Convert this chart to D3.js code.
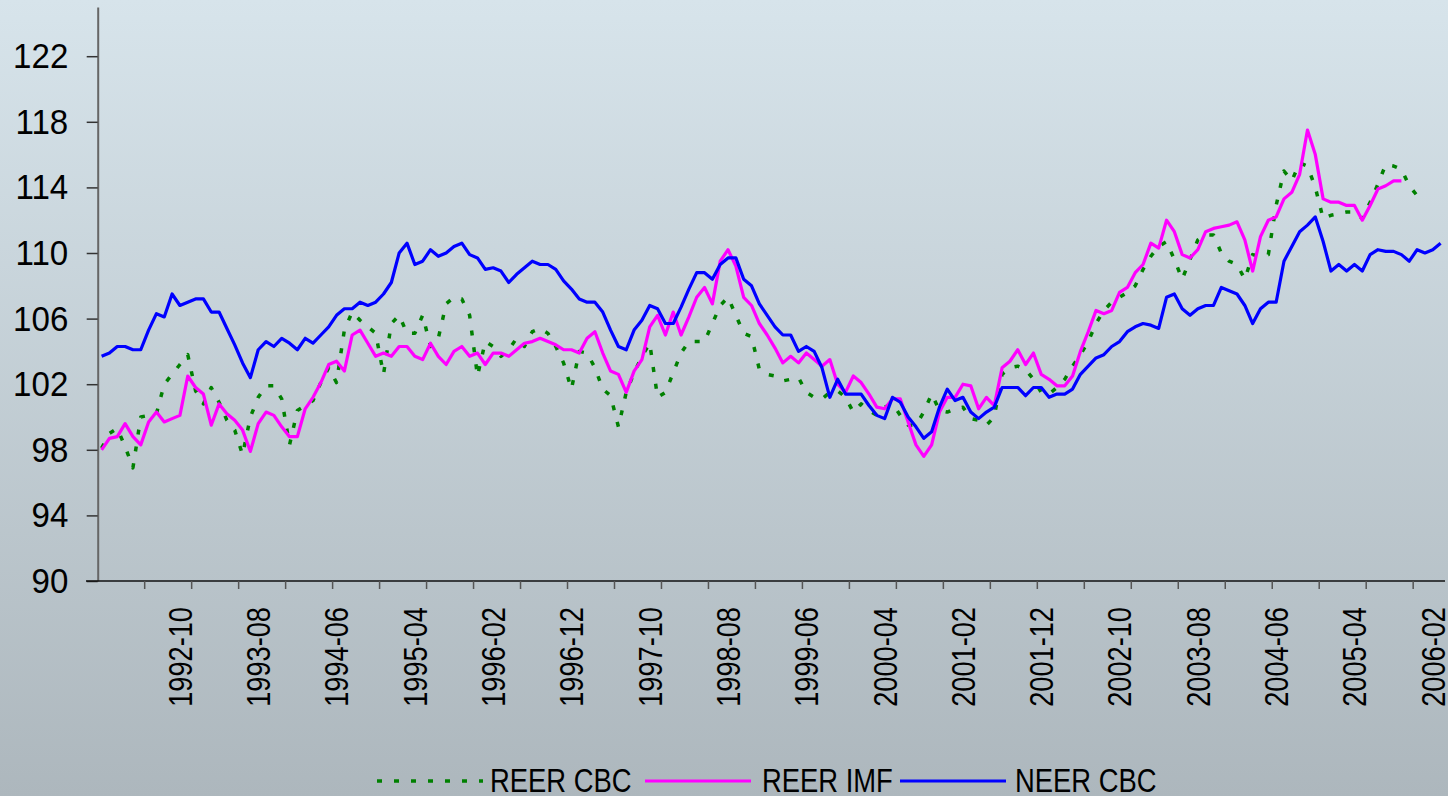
<!DOCTYPE html>
<html>
<head>
<meta charset="utf-8">
<script src="https://cdn.jsdelivr.net/npm/d3@7"></script>
<style>
  html, body { margin: 0; padding: 0; overflow: hidden; }
  svg { display: block; font-family: "Liberation Sans", Arial, sans-serif; }
</style>
</head>
<body>
<svg id="chart" width="1448" height="796"></svg>
<script>
// monthly categories, 1991-12 .. 2006-03
const months = d3.timeMonth.range(new Date(1991, 11, 1), new Date(2006, 3, 1)).map(d3.timeFormat('%Y-%m'));

const tickLabels = ['1992-10', '1993-08', '1994-06', '1995-04', '1996-02', '1996-12', '1997-10', '1998-08',
  '1999-06', '2000-04', '2001-02', '2001-12', '2002-10', '2003-08', '2004-06', '2005-04', '2006-02'];

const yTicks = [90, 94, 98, 102, 106, 110, 114, 118, 122];

// REER CBC (1991-12 .. 2005-12)
const reerCbc = [
  98.1, 99.0, 99.3, 98.2, 96.9, 100.0, 100.1, 100.2, 102.0, 102.6, 103.2, 103.8,
  101.6, 100.8, 101.8, 100.9, 99.8, 99.2, 97.7, 100.0, 101.2, 101.9, 101.9, 101.1,
  98.3, 100.4, 100.7, 101.0, 102.1, 103.0, 102.1, 105.3, 106.4, 105.9, 105.5, 105.1,
  102.6, 105.7, 106.2, 105.1, 105.1, 106.2, 104.3, 104.8, 106.9, 107.3, 107.2, 106.2,
  102.5, 104.6, 104.3, 103.7, 104.1, 104.8, 104.3, 105.2, 105.4, 105.1, 104.3, 103.3,
  101.7, 104.0, 103.9, 103.0, 101.7, 101.3, 99.4, 101.5, 102.7, 103.7, 104.5, 101.2,
  101.5, 102.7, 103.9, 104.6, 104.6, 104.6, 105.7, 106.8, 107.3, 106.2, 105.1, 104.9,
  102.9, 102.6, 102.5, 102.2, 102.3, 102.4, 101.5, 101.2, 101.1, 101.5, 101.6, 101.2,
  100.3, 100.8, 100.4, 100.1, 100.6, 100.8, 100.1, 99.5, 99.5, 100.3, 101.4, 100.4,
  100.3, 100.5, 100.6, 99.9, 99.8, 99.5, 100.0, 102.6, 103.0, 103.1, 102.9, 102.3,
  101.5, 101.4, 101.8, 102.3, 103.1, 103.8, 104.6, 105.7, 106.5, 107.0, 107.3, 107.6,
  108.0, 109.0, 109.8, 110.4, 110.7, 109.6, 108.4, 109.6, 110.8, 111.1, 111.1, 110.0,
  109.5, 109.3, 108.4, 109.9, 109.8, 109.9, 112.9, 115.0, 114.4, 115.5, 115.3, 114.0,
  112.1, 112.3, 112.4, 112.5, 112.5, 112.1, 113.1, 114.2, 115.4, 115.3, 115.1, 114.1,
  113.5
];

// REER IMF (1991-12 .. 2005-10)
const reerImf = [
  98.0, 98.7, 98.8, 99.6, 98.8, 98.3, 99.7, 100.3, 99.7, 99.9, 100.1, 102.5,
  101.8, 101.4, 99.5, 100.8, 100.2, 99.8, 99.2, 97.9, 99.6, 100.3, 100.1, 99.4,
  98.8, 98.8, 100.5, 101.2, 102.1, 103.2, 103.4, 102.8, 105.0, 105.3, 104.5, 103.7,
  103.9, 103.7, 104.3, 104.3, 103.7, 103.5, 104.5, 103.7, 103.2, 104.0, 104.3, 103.7,
  103.9, 103.2, 103.9, 103.9, 103.7, 104.1, 104.5, 104.6, 104.8, 104.6, 104.4, 104.1,
  104.1, 103.9, 104.8, 105.2, 103.9, 102.8, 102.6, 101.5, 102.8, 103.5, 105.5, 106.2,
  105.0, 106.4, 105.0, 106.1, 107.3, 107.9, 106.9, 109.5, 110.2, 109.2, 107.3, 106.8,
  105.7, 105.0, 104.2, 103.3, 103.7, 103.3, 103.9, 103.5, 103.1, 103.5, 102.0, 101.5,
  102.5, 102.1, 101.4, 100.6, 100.5, 101.1, 101.1, 99.7, 98.3, 97.6, 98.3, 100.3,
  101.2, 101.2, 102.0, 101.9, 100.5, 101.2, 100.7, 103.0, 103.4, 104.1, 103.2, 103.9,
  102.6, 102.3, 101.9, 101.9, 102.5, 104.0, 105.2, 106.5, 106.3, 106.5, 107.6, 107.9,
  108.8, 109.3, 110.6, 110.3, 112.0, 111.3, 109.9, 109.7, 110.2, 111.3, 111.5, 111.6,
  111.7, 111.9, 110.8, 108.9, 111.0, 112.0, 112.2, 113.3, 113.7, 114.8, 117.5, 116.0,
  113.3, 113.1, 113.1, 112.9, 112.9, 112.0, 112.9, 113.9, 114.1, 114.4, 114.4
];

// NEER CBC (1991-12 .. 2006-03)
const neerCbc = [
  103.7, 103.9, 104.3, 104.3, 104.1, 104.1, 105.3, 106.3, 106.1, 107.5, 106.8, 107.0,
  107.2, 107.2, 106.4, 106.4, 105.4, 104.4, 103.3, 102.4, 104.1, 104.6, 104.3, 104.8,
  104.5, 104.1, 104.8, 104.5, 105.0, 105.5, 106.2, 106.6, 106.6, 107.0, 106.8, 107.0,
  107.5, 108.2, 110.0, 110.6, 109.3, 109.5, 110.2, 109.8, 110.0, 110.4, 110.6, 109.9,
  109.7, 109.0, 109.1, 108.9, 108.2, 108.7, 109.1, 109.5, 109.3, 109.3, 109.0, 108.3,
  107.8, 107.2, 107.0, 107.0, 106.4, 105.3, 104.3, 104.1, 105.3, 105.9, 106.8, 106.6,
  105.7, 105.7, 106.7, 107.8, 108.8, 108.8, 108.4, 109.3, 109.7, 109.7, 108.4, 108.0,
  106.9, 106.2, 105.5, 105.0, 105.0, 104.0, 104.3, 104.0, 103.0, 101.2, 102.3, 101.4,
  101.4, 101.4, 100.7, 100.1, 99.9, 101.2, 100.9, 100.0, 99.4, 98.7, 99.1, 100.6,
  101.7, 101.0, 101.2, 100.3, 99.9, 100.3, 100.6, 101.8, 101.8, 101.8, 101.3, 101.8,
  101.8, 101.2, 101.4, 101.4, 101.7, 102.6, 103.1, 103.6, 103.8, 104.3, 104.6, 105.2,
  105.5, 105.7, 105.6, 105.4, 107.3, 107.5, 106.6, 106.2, 106.6, 106.8, 106.8, 107.9,
  107.7, 107.5, 106.8, 105.7, 106.6, 107.0, 107.0, 109.5, 110.4, 111.3, 111.7, 112.2,
  110.7, 108.9, 109.3, 108.9, 109.3, 108.9, 109.9, 110.2, 110.1, 110.1, 109.9, 109.5,
  110.2, 110.0, 110.2, 110.6
];

const series = [
  { name: 'REER CBC', values: reerCbc, color: '#008000', dash: '5,12', width: 3.5 },
  { name: 'REER IMF', values: reerImf, color: '#ff00ff', dash: null, width: 3.2 },
  { name: 'NEER CBC', values: neerCbc, color: '#0000ff', dash: null, width: 3.2 }
];

const svg = d3.select('#chart');
const W = 1448, H = 796;

// background gradient
const defs = svg.append('defs');
const grad = defs.append('linearGradient')
  .attr('id', 'bg').attr('x1', 0).attr('y1', 0).attr('x2', 0).attr('y2', 1);
grad.append('stop').attr('offset', '0%').attr('stop-color', '#d7e4eb');
grad.append('stop').attr('offset', '100%').attr('stop-color', '#adb7bd');
svg.append('rect').attr('width', W).attr('height', H).attr('fill', 'url(#bg)');

const x = d3.scaleBand().domain(months).range([97.7, 1444.5]);
const xc = m => x(m) + x.bandwidth() / 2;
const y = d3.scaleLinear().domain([90, 125]).range([581, 7]);

// lines
const line = d3.line()
  .x((d, i) => xc(months[i]))
  .y(d => y(d));

svg.append('g').selectAll('path')
  .data(series)
  .enter().append('path')
  .attr('d', d => line(d.values))
  .attr('fill', 'none')
  .attr('stroke', d => d.color)
  .attr('stroke-width', d => d.width)
  .attr('stroke-dasharray', d => d.dash)
  .attr('stroke-linejoin', 'round');

// y axis
const yAxis = svg.append('g')
  .attr('transform', 'translate(97.7,0)')
  .call(d3.axisLeft(y).tickValues(yTicks).tickSize(11).tickSizeOuter(0));
yAxis.select('.domain').attr('stroke', '#666').attr('stroke-width', 2);
yAxis.selectAll('.tick line').attr('stroke', '#333').attr('stroke-width', 1.5);
yAxis.selectAll('.tick text')
  .attr('x', null)
  .attr('transform', 'translate(-29.4,0) scale(0.92,1)')
  .attr('font-size', 36)
  .attr('fill', '#000')
  .attr('font-family', '"Liberation Sans", Arial, sans-serif');

// x axis
const xAxis = svg.append('g');
xAxis.append('line')
  .attr('x1', 86).attr('x2', 1445)
  .attr('y1', y(90)).attr('y2', y(90))
  .attr('stroke', '#111').attr('stroke-width', 1.5);
xAxis.selectAll('.xtick')
  .data(months.filter((m, i) => i % 6 === 0 && i > 0))
  .enter().append('line')
  .attr('class', 'xtick')
  .attr('x1', d => x(d)).attr('x2', d => x(d))
  .attr('y1', y(90)).attr('y2', y(90) + 8)
  .attr('stroke', '#555').attr('stroke-width', 1.5);
xAxis.selectAll('.xlabel')
  .data(tickLabels)
  .enter().append('text')
  .attr('class', 'xlabel')
  .attr('transform', d => 'translate(' + xc(d) + ',607) rotate(-90) scale(0.8,1)')
  .attr('text-anchor', 'end')
  .attr('dy', '0.35em')
  .attr('font-size', 34)
  .text(d => d);

// legend
const legendSampleX = [377, 645, 900];
const legendTextX = [490, 762, 1015];
const legend = svg.append('g');
series.forEach((s, i) => {
  legend.append('line')
    .attr('x1', legendSampleX[i]).attr('x2', legendSampleX[i] + 106)
    .attr('y1', 781).attr('y2', 781)
    .attr('stroke', s.color)
    .attr('stroke-width', s.width)
    .attr('stroke-dasharray', s.dash);
  legend.append('text')
    .attr('transform', 'translate(' + legendTextX[i] + ',792) scale(0.83,1)')
    .attr('font-size', 33)
    .text(s.name);
});
</script>
</body>
</html>
